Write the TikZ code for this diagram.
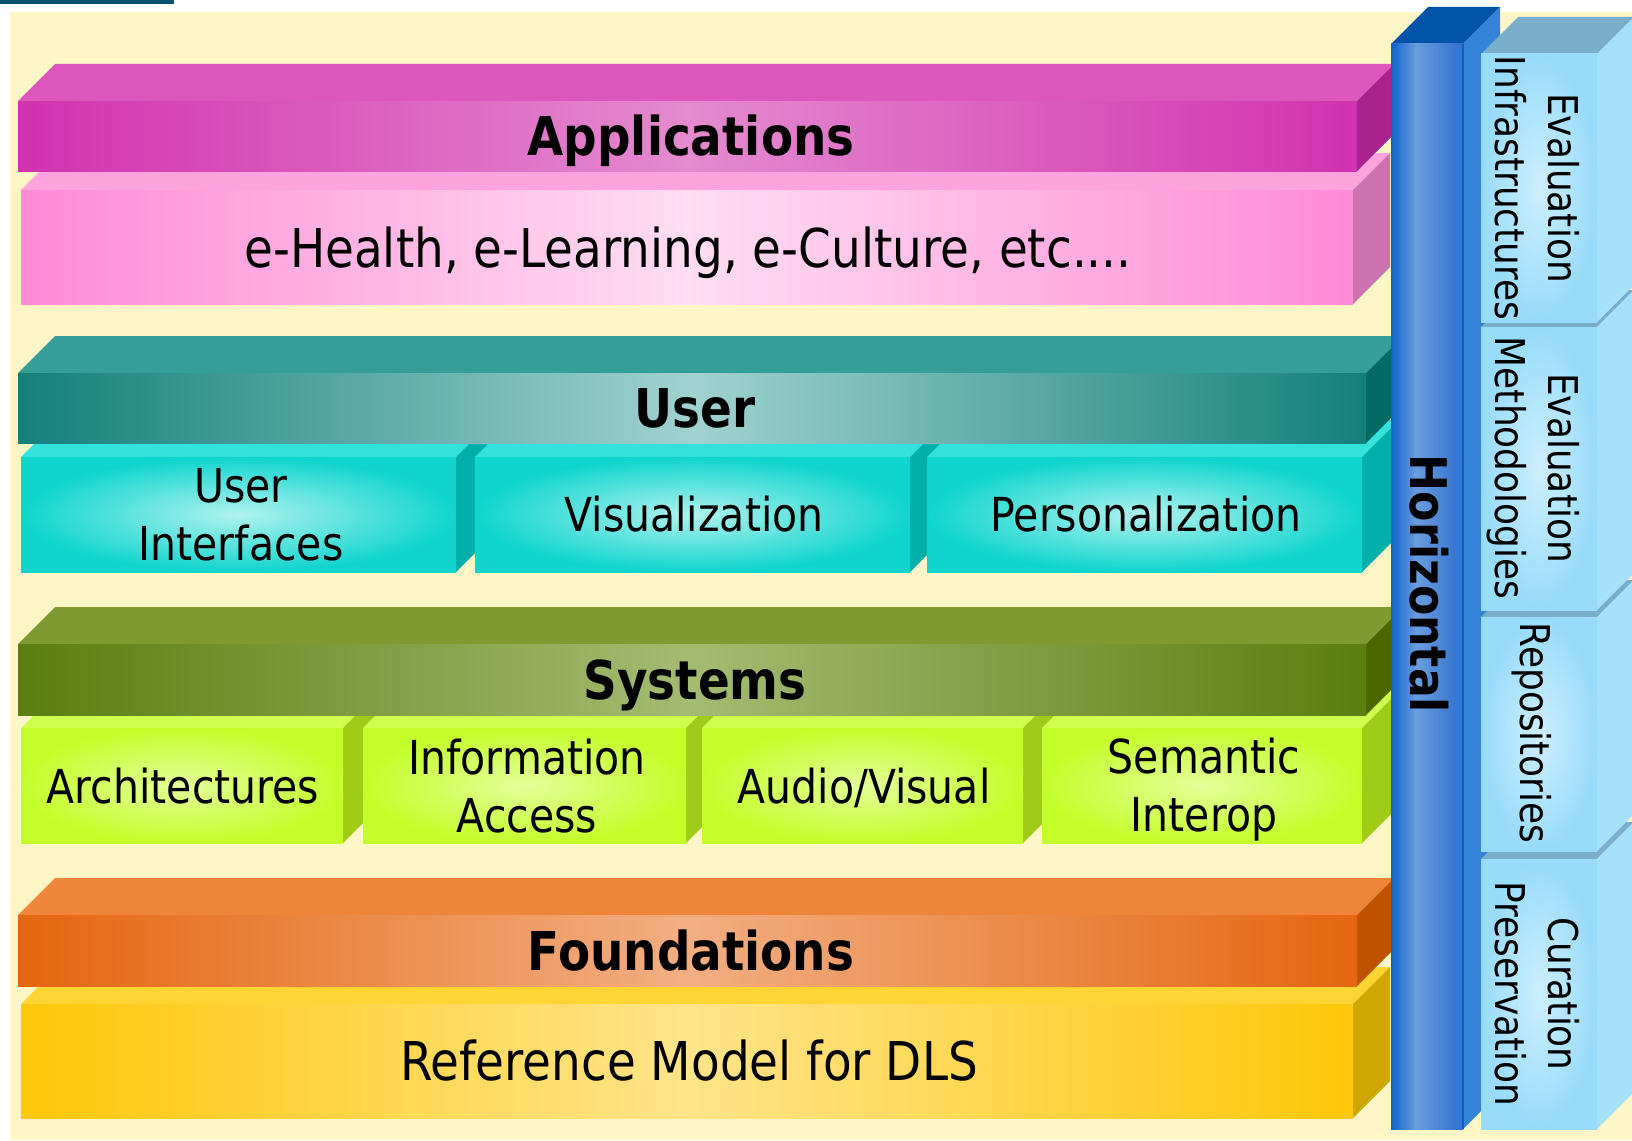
\documentclass[tikz,border=0pt]{standalone}
\usepackage{fontspec}
\setmainfont{DejaVu Sans}[FakeStretch=0.876]
\definecolor{cream}{HTML}{FFF6C8}
\definecolor{darkbar}{HTML}{0B4F71}
\definecolor{appF}{HTML}{D232AF}\definecolor{appL}{HTML}{E48ACF}\definecolor{appT}{HTML}{DC56BE}\definecolor{appS}{HTML}{A8238B}
\definecolor{pinkF}{HTML}{FF8AD6}\definecolor{pinkL}{HTML}{FFDDF2}\definecolor{pinkT}{HTML}{FDA3DE}\definecolor{pinkS}{HTML}{CC72AE}
\definecolor{userF}{HTML}{14807A}\definecolor{userL}{HTML}{A0D2D0}\definecolor{userT}{HTML}{369E98}\definecolor{userS}{HTML}{036A63}
\definecolor{cyanF}{HTML}{0FD5CE}\definecolor{cyanL}{HTML}{B0F2EF}\definecolor{cyanT}{HTML}{33E3DB}\definecolor{cyanS}{HTML}{00AFA9}
\definecolor{sysF}{HTML}{5B7E0F}\definecolor{sysL}{HTML}{A4BB72}\definecolor{sysT}{HTML}{7F9A31}\definecolor{sysS}{HTML}{4C6600}
\definecolor{limeF}{HTML}{C4FE2A}\definecolor{limeL}{HTML}{E4FF9A}\definecolor{limeT}{HTML}{D0FF4E}\definecolor{limeS}{HTML}{9ECC18}
\definecolor{fndF}{HTML}{E5660F}\definecolor{fndL}{HTML}{F2AE82}\definecolor{fndT}{HTML}{EF8538}\definecolor{fndS}{HTML}{BF5300}
\definecolor{yelF}{HTML}{FFC709}\definecolor{yelL}{HTML}{FFE48A}\definecolor{yelT}{HTML}{FFD535}\definecolor{yelS}{HTML}{D0A600}
\definecolor{bluA}{HTML}{0B63CC}\definecolor{bluB}{HTML}{6A9DDC}\definecolor{bluD}{HTML}{2E70D2}
\definecolor{bluT}{HTML}{0053A9}\definecolor{bluS}{HTML}{3483D9}\definecolor{bluE}{HTML}{0A5FC4}
\definecolor{lbF}{HTML}{98DBFA}\definecolor{lbL}{HTML}{CDEFFE}\definecolor{lbT}{HTML}{7AAFCC}\definecolor{lbS}{HTML}{A6E1FA}
\newcommand\mycuboid[7]{%
  \path[fill=#5] (#1,#2) -- (#1+37,#2-37) -- (#3+37,#2-37) -- (#3,#2) -- cycle;
  \path[fill=#6] (#3,#2) -- (#3+37,#2-37) -- (#3+37,#4-37) -- (#3,#4) -- cycle;
  \path[#7] (#1,#2) rectangle (#3,#4);
}
\tikzset{
  hdr/.style={inner sep=0pt, text=black, text height=39pt, text depth=0pt, font=\fontsize{53.5}{64}\selectfont\bfseries},
  big/.style={inner sep=0pt, text=black, text height=39pt, text depth=0pt, font=\fontsize{53.5}{64}\selectfont},
  sub/.style={inner sep=0pt, text=black, text height=34.2pt, text depth=0pt, font=\fontsize{46.8}{58}\selectfont},
  subtwo/.style={inner sep=0pt, text=black, align=center, font=\fontsize{46.8}{58}\selectfont},
  side/.style={inner sep=0pt, text=black, align=center, rotate=-90, font=\fontsize{41}{53}\selectfont},
  hshade/.style={left color=#1F, right color=#1F, middle color=#1L},
  rshade/.style={shading=radial, inner color=#1L, outer color=#1F}
}
\begin{document}
\begin{tikzpicture}[x=1pt,y=-1pt]
\useasboundingbox (0,0) rectangle (1632,1140);
\fill[white] (0,0) rectangle (1632,1140);
\fill[cream] (10,12) rectangle (1632,1140);
\fill[darkbar] (0,0) rectangle (174,4);

% Applications
\mycuboid{21}{190}{1353}{304}{pinkT}{pinkS}{hshade=pink}
\mycuboid{18}{101}{1357}{171}{appT}{appS}{hshade=app}
% User
\mycuboid{21}{457}{456}{572}{cyanT}{cyanS}{rshade=cyan}
\mycuboid{475}{457}{910}{572}{cyanT}{cyanS}{rshade=cyan}
\mycuboid{927}{457}{1362}{572}{cyanT}{cyanS}{rshade=cyan}
\mycuboid{18}{373}{1366}{443}{userT}{userS}{hshade=user}
% Systems
\mycuboid{21}{728}{343}{843}{limeT}{limeS}{rshade=lime}
\mycuboid{363}{728}{686}{843}{limeT}{limeS}{rshade=lime}
\mycuboid{702}{728}{1023}{843}{limeT}{limeS}{rshade=lime}
\mycuboid{1042}{728}{1362}{843}{limeT}{limeS}{rshade=lime}
\mycuboid{18}{644}{1366}{715}{sysT}{sysS}{hshade=sys}
% Foundations
\mycuboid{21}{1004}{1353}{1118}{yelT}{yelS}{hshade=yel}
\mycuboid{18}{915}{1357}{986}{fndT}{fndS}{hshade=fnd}
% Horizontal column
\mycuboid{1391}{44}{1463}{1129}{bluT}{bluS}{fill=bluD}
\shade[left color=bluA, right color=bluB] (1391,44) rectangle (1416,1129);
\shade[left color=bluB, right color=bluD] (1415.5,44) rectangle (1463,1129);
\draw[bluE, line width=2pt] (1463,44) -- (1463,1129);
% Right boxes
\mycuboid{1481}{859}{1597}{1129}{lbT}{lbS}{rshade=lb}
\mycuboid{1481}{617}{1597}{851}{lbT}{lbS}{rshade=lb}
\mycuboid{1481}{327}{1597}{610}{lbT}{lbS}{rshade=lb}
\mycuboid{1481}{54}{1597}{322}{lbT}{lbS}{rshade=lb}

% Texts
\node[hdr] (app) at (691,136) {Applications};
\node[big] (ehealth) at (688,248) {e-Health, e-Learning, e-Culture, etc....};
\node[hdr] (user) at (695,408) {User};
\node[subtwo] (ui) at (241,514.5) {User\\Interfaces};
\node[sub] (vis) at (694,514.5) {Visualization};
\node[sub] (pers) at (1146,514.5) {Personalization};
\node[hdr] (sys) at (695,680) {Systems};
\node[sub] (arch) at (183,786) {Architectures};
\node[subtwo] (info) at (527,786) {Information\\Access};
\node[sub] (av) at (864,786) {Audio/Visual};
\node[subtwo] (sem) at (1204,790) {Semantic\\Interop};
\node[hdr] (fnd) at (691,950.5) {Foundations};
\node[big] (ref) at (689,1061) {Reference Model for DLS};
\node[hdr, rotate=-90, text height=36.9pt, font=\fontsize{50.5}{60}\selectfont\bfseries] (hor) at (1429,584) {Horizontal};
\node[side] (evinf) at (1537,188) {Evaluation\\Infrastructures};
\node[side] (evmet) at (1533,468) {Evaluation\\Methodologies};
\node[side, text height=30pt, text depth=0pt] (repo) at (1535,733) {Repositories};
\node[side] (cur) at (1537,994) {Curation\\Preservation};
\end{tikzpicture}
\end{document}
